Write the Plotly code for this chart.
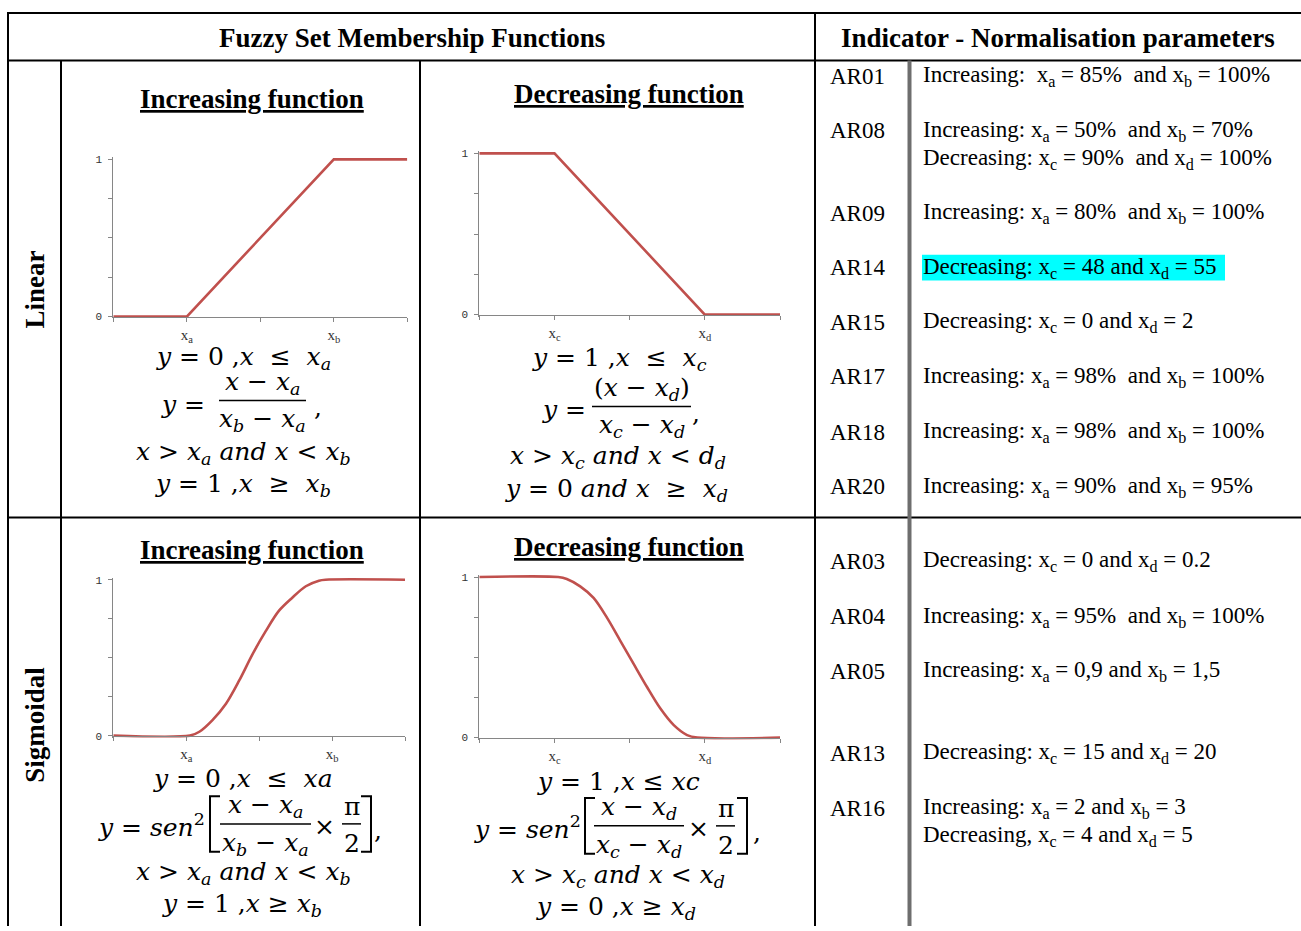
import plotly.graph_objects as go

W, H = 1301, 931
def X(p): return p / W
def Y(p): return 1 - p / H

# ---------------- data ----------------
x_ticks = [0, 1, 2, 3, 4]
inc_tick_text = ["", "x<sub>a</sub>", "", "x<sub>b</sub>", ""]
dec_tick_text = ["", "x<sub>c</sub>", "", "x<sub>d</sub>", ""]
y_ticks = [0, 0.25, 0.5, 0.75, 1]
y_tick_text = ["0", "", "", "", "1"]

lin_inc_x = [0, 1, 3, 4]
lin_inc_y = [0, 0, 1, 1]
lin_dec_x = [0, 1, 3, 4]
lin_dec_y = [1, 1, 0, 0]
sig_inc_x = [0, 1.05, 1.18, 1.36, 1.545, 1.727, 1.91, 2.09, 2.27, 2.45, 2.64, 2.82, 2.91, 4]
sig_inc_y = [0, 0, 0.025, 0.10, 0.205, 0.354, 0.523, 0.67, 0.80, 0.883, 0.958, 0.994, 1.0, 1.0]
sig_dec_x = [0, 1.05, 1.164, 1.342, 1.52, 1.698, 1.876, 2.053, 2.231, 2.409, 2.587, 2.764, 2.9, 4]
sig_dec_y = [1, 1, 0.988, 0.942, 0.870, 0.747, 0.603, 0.459, 0.315, 0.181, 0.078, 0.016, 0, 0]

indicator_codes = ["AR01", "AR08", "AR09", "AR14", "AR15", "AR17", "AR18", "AR20",
                   "AR03", "AR04", "AR05", "AR13", "AR16"]
NB = "\u00a0"
indicator_params = [
    ["Increasing:" + NB + NB + "x<sub>a</sub> = 85%" + NB + " and x<sub>b</sub> = 100%"],
    ["Increasing: x<sub>a</sub> = 50%" + NB + " and x<sub>b</sub> = 70%",
     "Decreasing: x<sub>c</sub> = 90%" + NB + " and x<sub>d</sub> = 100%"],
    ["Increasing: x<sub>a</sub> = 80%" + NB + " and x<sub>b</sub> = 100%"],
    ["Decreasing: x<sub>c</sub> = 48 and x<sub>d</sub> = 55"],
    ["Decreasing: x<sub>c</sub> = 0 and x<sub>d</sub> = 2"],
    ["Increasing: x<sub>a</sub> = 98%" + NB + " and x<sub>b</sub> = 100%"],
    ["Increasing: x<sub>a</sub> = 98%" + NB + " and x<sub>b</sub> = 100%"],
    ["Increasing: x<sub>a</sub> = 90%" + NB + " and x<sub>b</sub> = 95%"],
    ["Decreasing: x<sub>c</sub> = 0 and x<sub>d</sub> = 0.2"],
    ["Increasing: x<sub>a</sub> = 95%" + NB + " and x<sub>b</sub> = 100%"],
    ["Increasing: x<sub>a</sub> = 0,9 and x<sub>b</sub> = 1,5"],
    ["Decreasing: x<sub>c</sub> = 15 and x<sub>d</sub> = 20"],
    ["Increasing: x<sub>a</sub> = 2 and x<sub>b</sub> = 3",
     "Decreasing, x<sub>c</sub> = 4 and x<sub>d</sub> = 5"],
]
highlighted = "AR14"

# ---------------- layout constants ----------------
row_y = [74, 129, 212, 267, 322, 377, 433, 488, 563, 619, 674, 757, 812]
line_gap = 28
RED = "#C0504D"
AXC = "#868686"
SERIF = "Liberation Serif"
MATH = "DejaVu Serif"
PAD = 0.012

fig = go.Figure()

charts = [
    (lin_inc_x, lin_inc_y, inc_tick_text, (113.3, 407.3, 157.7, 316.3), "linear"),
    (lin_dec_x, lin_dec_y, dec_tick_text, (479.3, 780.0, 151.7, 314.3), "linear"),
    (sig_inc_x, sig_inc_y, inc_tick_text, (113.3, 405.0, 581.7, 739.0), "spline"),
    (sig_dec_x, sig_dec_y, dec_tick_text, (479.3, 780.0, 579.0, 741.0), "spline"),
]

layout_axes = {}
for i, (xs, ys, ttext, (x0, x1, p1, p0), shape) in enumerate(charts):
    n = "" if i == 0 else str(i + 1)
    fig.add_trace(go.Scatter(
        x=xs, y=ys, mode="lines",
        line=dict(color=RED, width=2.6, shape=shape, smoothing=0.9 if shape == "spline" else None),
        xaxis="x" + n, yaxis="y" + n, showlegend=False, hoverinfo="skip"))
    span = p0 - p1
    layout_axes["xaxis" + n] = dict(
        domain=[X(x0), X(x1)], range=[0, 4], anchor="free", position=Y(p0),
        showline=True, linecolor=AXC, linewidth=1, ticks="outside", ticklen=4,
        tickcolor=AXC, tickwidth=1, tickvals=x_ticks, ticktext=ttext,
        tickfont=dict(family=SERIF, size=15, color="#333333"),
        showgrid=False, zeroline=False, fixedrange=True)
    layout_axes["yaxis" + n] = dict(
        domain=[Y(p0 + PAD * span), Y(p1 - PAD * span)], range=[-PAD, 1 + PAD],
        anchor="x" + n, showline=True, linecolor=AXC, linewidth=1,
        ticks="outside", ticklen=4, tickcolor=AXC, tickwidth=1,
        tickvals=y_ticks, ticktext=y_tick_text, ticklabelstandoff=4,
        tickfont=dict(family="Liberation Mono", size=11, color="#333333"),
        showgrid=False, zeroline=False, fixedrange=True)

shapes = []
def hline(y, xa, xb, w=2, c="black"):
    shapes.append(dict(type="line", xref="paper", yref="paper", x0=X(xa), x1=X(xb),
                       y0=Y(y), y1=Y(y), line=dict(color=c, width=w)))
def vline(x, ya, yb, w=2, c="black"):
    shapes.append(dict(type="line", xref="paper", yref="paper", x0=X(x), x1=X(x),
                       y0=Y(ya), y1=Y(yb), line=dict(color=c, width=w)))

# highlight box (below text)
hi = indicator_codes.index(highlighted)
shapes.append(dict(type="rect", xref="paper", yref="paper", x0=X(922), x1=X(1225),
                   y0=Y(row_y[hi] - 13), y1=Y(row_y[hi] + 13),
                   fillcolor="#00FFFF", line=dict(width=0), layer="below"))

# table grid
hline(10, 7, 1301)
hline(58, 7, 1301)
hline(519, 7, 1301)
vline(8, 9, 931)
vline(61, 58, 931)
vline(420, 58, 931)
vline(815, 9, 931)
vline(909.5, 58, 931, w=4, c="#6e6e6e")

ann = []
def txt(s, x, y, size=23, family=SERIF, xa="center", ya="middle", angle=0, color="black"):
    ann.append(dict(text=s, x=X(x), y=Y(y), xref="paper", yref="paper", showarrow=False,
                    xanchor=xa, yanchor=ya, textangle=angle, borderpad=0,
                    font=dict(family=family, size=size, color=color)))

# headers
txt("<b>Fuzzy Set Membership Functions</b>", 411.5, 35, size=27)
txt("<b>Indicator - Normalisation parameters</b>", 1058, 35, size=27)
txt("<b>Linear</b>", 35, 289, size=27, angle=-90)
txt("<b>Sigmoidal</b>", 35, 728, size=27, angle=-90)

# chart titles
txt("<b><u>Increasing function</u></b>", 252, 97, size=27)
txt("<b><u>Decreasing function</u></b>", 629, 92, size=27)
txt("<b><u>Increasing function</u></b>", 252, 552, size=27)
txt("<b><u>Decreasing function</u></b>", 629, 549, size=27)

# formulas
FS = 25
def I(s): return "<i>" + s + "</i>"
def xs_(v, s): return "<i>" + v + "</i><sub><i>" + s + "</i></sub>"
def m(s, x, y, xa="center", size=FS):
    txt(s, x, y, size=size, family=MATH, xa=xa)
def frac(num, den, xl, xr, yb, dn=18, dd=20):
    m(num, (xl + xr) / 2, yb - dn)
    m(den, (xl + xr) / 2, yb + dd)
    hline(yb, xl, xr, w=1.5)
def bracket(xl, xr, yt, yb, left=True):
    if left:
        path = f"M {X(xr)},{Y(yt)} L {X(xl)},{Y(yt)} L {X(xl)},{Y(yb)} L {X(xr)},{Y(yb)}"
    else:
        path = f"M {X(xl)},{Y(yt)} L {X(xr)},{Y(yt)} L {X(xr)},{Y(yb)} L {X(xl)},{Y(yb)}"
    shapes.append(dict(type="path", xref="paper", yref="paper", path=path,
                       line=dict(color="black", width=2)))

# linear increasing
m(I("y") + NB + "= 0" + NB + "," + I("x") + NB + NB + "≤" + NB + " " + xs_("x", "a"), 243, 358)
m(I("y") + NB + "=", 206, 405, xa="right")
frac(I("x") + " − " + xs_("x", "a"), xs_("x", "b") + " − " + xs_("x", "a"), 219, 306, 401)
m(",", 318, 408)
m(I("x") + " > " + xs_("x", "a") + " " + I("and") + " " + I("x") + " < " + xs_("x", "b"), 243, 454)
m(I("y") + NB + "= 1" + NB + "," + I("x") + NB + NB + "≥" + NB + " " + xs_("x", "b"), 243, 486)

# linear decreasing
m(I("y") + NB + "= 1" + NB + "," + I("x") + NB + NB + "≤" + NB + " " + xs_("x", "c"), 619, 359)
m(I("y") + NB + "=", 587, 410, xa="right")
frac("(" + I("x") + " − " + xs_("x", "d") + ")", xs_("x", "c") + " − " + xs_("x", "d"), 592, 691, 407)
m(",", 696, 414)
m(I("x") + " > " + xs_("x", "c") + " " + I("and") + " " + I("x") + " < " + xs_("d", "d"), 618, 458)
m(I("y") + NB + "= 0 " + I("and") + " " + I("x") + NB + NB + "≥" + NB + " " + xs_("x", "d"), 616, 491)

# sigmoid increasing
m(I("y") + NB + "= 0" + NB + "," + I("x") + NB + NB + "≤" + NB + " " + I("xa"), 243, 782)
m(I("y") + NB + "= " + I("sen") + "<sup>2</sup>", 206, 830, xa="right")
bracket(210, 220, 800, 856, left=True)
frac(I("x") + " − " + xs_("x", "a"), xs_("x", "b") + " − " + xs_("x", "a"), 220, 311, 828)
m("×", 324, 831)
frac("π", "2", 342, 361, 828)
bracket(361, 371, 800, 856, left=False)
m(",", 378, 835)
m(I("x") + " > " + xs_("x", "a") + " " + I("and") + " " + I("x") + " < " + xs_("x", "b"), 243, 878)
m(I("y") + NB + "= 1" + NB + "," + I("x") + " ≥ " + xs_("x", "b"), 242, 910)

# sigmoid decreasing
m(I("y") + NB + "= 1" + NB + "," + I("x") + " ≤ " + I("xc"), 618, 785)
m(I("y") + NB + "= " + I("sen") + "<sup>2</sup>", 582, 832, xa="right")
bracket(585, 595, 802, 858, left=True)
frac(I("x") + " − " + xs_("x", "d"), xs_("x", "c") + " − " + xs_("x", "d"), 594, 684, 830)
m("×", 698, 833)
frac("π", "2", 716, 735, 830)
bracket(737, 747, 802, 858, left=False)
m(",", 757, 837)
m(I("x") + " > " + xs_("x", "c") + " " + I("and") + " " + I("x") + " < " + xs_("x", "d"), 618, 881)
m(I("y") + NB + "= 0" + NB + "," + I("x") + " ≥ " + xs_("x", "d"), 616, 913)

# indicator column
for code, lines, yv in zip(indicator_codes, indicator_params, row_y):
    txt(code, 829, yv, size=23, xa="left")
    for k, ln in enumerate(lines):
        txt(ln, 922, yv + k * line_gap, size=23, xa="left")

fig.update_layout(
    width=W, height=H, margin=dict(l=0, r=0, t=0, b=0),
    paper_bgcolor="white", plot_bgcolor="white", showlegend=False,
    shapes=shapes, annotations=ann, **layout_axes)

fig.write_html("out.html", config={"displayModeBar": False},
               post_script="document.body.style.margin='0';document.body.style.overflow='hidden';")
